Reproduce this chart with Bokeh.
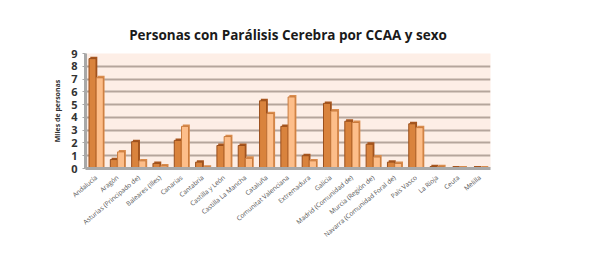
import numpy as np
from bokeh.plotting import figure
from bokeh.models import Range1d, Legend, LegendItem, FixedTicker, ColumnDataSource
from bokeh.transform import dodge
from bokeh.embed import file_html
from bokeh.resources import INLINE

categorias = ["Andalucía", "Aragón", "Asturias (Principado de)", "Baleares (Illes)", "Canarias",
              "Cantabria", "Castilla y León", "Castilla La Mancha", "Cataluña", "Comunitat Valenciana",
              "Extremadura", "Galicia", "Madrid (Comunidad de)", "Murcia (Región de)",
              "Navarra (Comunidad Foral de)", "País Vasco", "La Rioja", "Ceuta", "Melilla"]
varones = [8.6, 0.7, 2.1, 0.4, 2.2, 0.5, 1.8, 1.8, 5.3, 3.3, 1.0, 5.1, 3.7, 1.9, 0.5, 3.5, 0.15, 0.05, 0.05]
mujeres = [7.1, 1.3, 0.6, 0.2, 3.3, 0.1, 2.5, 0.8, 4.3, 5.6, 0.6, 4.5, 3.6, 0.9, 0.4, 3.2, 0.15, 0.05, 0.05]
y_ticks = [0, 1, 2, 3, 4, 5, 6, 7, 8, 9]

FONT = "Open Sans"
depth = 0.15
src = ColumnDataSource(dict(
    cat=categorias, v=varones, m=mujeres,
    vd=list(np.array(varones) + depth), md=list(np.array(mujeres) + depth),
))

p = figure(x_range=categorias, y_range=Range1d(0, 9), frame_width=405, frame_height=115,
           output_backend="svg", toolbar_location=None,
           min_border_left=85, min_border_right=55, min_border_top=53, min_border_bottom=73)

p.title.text = "Personas con Parálisis Cerebra por CCAA y sexo"
p.title.align = "center"
p.title.text_font = FONT
p.title.text_font_size = "13.5px"
p.title.text_font_style = "bold"
p.title.text_color = "#1a1a1a"
p.title.standoff = 19

p.background_fill_color = "#FDEEE6"
p.border_fill_color = "white"
p.outline_line_color = None

# depth (3D side) bars
p.vbar(x=dodge("cat", -0.11, range=p.x_range), top="vd", width=0.33, source=src,
       fill_color="#A8561F", line_color=None)
p.vbar(x=dodge("cat", 0.23, range=p.x_range), top="md", width=0.33, source=src,
       fill_color="#D98C4E", line_color=None)
rv = p.vbar(x=dodge("cat", -0.17, range=p.x_range), top="v", width=0.33, source=src,
            fill_color="#D9833D", line_color="#9A4F1C", line_width=1)
rm = p.vbar(x=dodge("cat", 0.17, range=p.x_range), top="m", width=0.33, source=src,
            fill_color="#FDBE8A", line_color="#C97A3C", line_width=1)

p.yaxis.ticker = FixedTicker(ticks=y_ticks)
p.yaxis.major_label_text_font = FONT
p.yaxis.major_label_text_font_size = "11px"
p.yaxis.major_label_text_color = "#333333"
p.yaxis.major_label_text_font_style = "bold"
p.yaxis.major_tick_line_color = "#A8A8A8"
p.yaxis.major_tick_in = 0
p.yaxis.major_tick_out = 3
p.yaxis.minor_tick_line_color = None
p.yaxis.axis_line_color = "#A8A8A8"
p.yaxis.axis_line_width = 3
p.yaxis.axis_label = "Miles de personas"
p.yaxis.axis_label_text_font = FONT
p.yaxis.axis_label_text_font_size = "7px"
p.yaxis.axis_label_text_font_style = "bold"
p.yaxis.axis_label_text_color = "#333333"
p.yaxis.axis_label_standoff = 6

p.xaxis.major_label_orientation = 0.7
p.xaxis.major_label_text_font = FONT
p.xaxis.major_label_text_font_size = "6.5px"
p.xaxis.major_label_text_color = "#555555"
p.xaxis.major_tick_line_color = None
p.xaxis.axis_line_color = "#A8A8A8"
p.xaxis.axis_line_width = 3
p.xaxis.major_label_standoff = 2

p.xgrid.grid_line_color = None
p.ygrid.grid_line_color = "#B5A59C"
p.ygrid.grid_line_width = 2

legend = Legend(items=[LegendItem(label="varones", renderers=[rv]),
                       LegendItem(label="mujeres", renderers=[rm])],
                location="center")
legend.label_text_font = FONT
legend.label_text_font_size = "7px"
legend.label_text_color = "#555555"
legend.glyph_width = 7
legend.glyph_height = 7
legend.label_standoff = 3
legend.spacing = 4
legend.padding = 2
legend.margin = 6
legend.label_height = 10
legend.border_line_alpha = 0
legend.background_fill_alpha = 0
p.add_layout(legend, "right")

open("out.html", "w").write(file_html(p, INLINE))
